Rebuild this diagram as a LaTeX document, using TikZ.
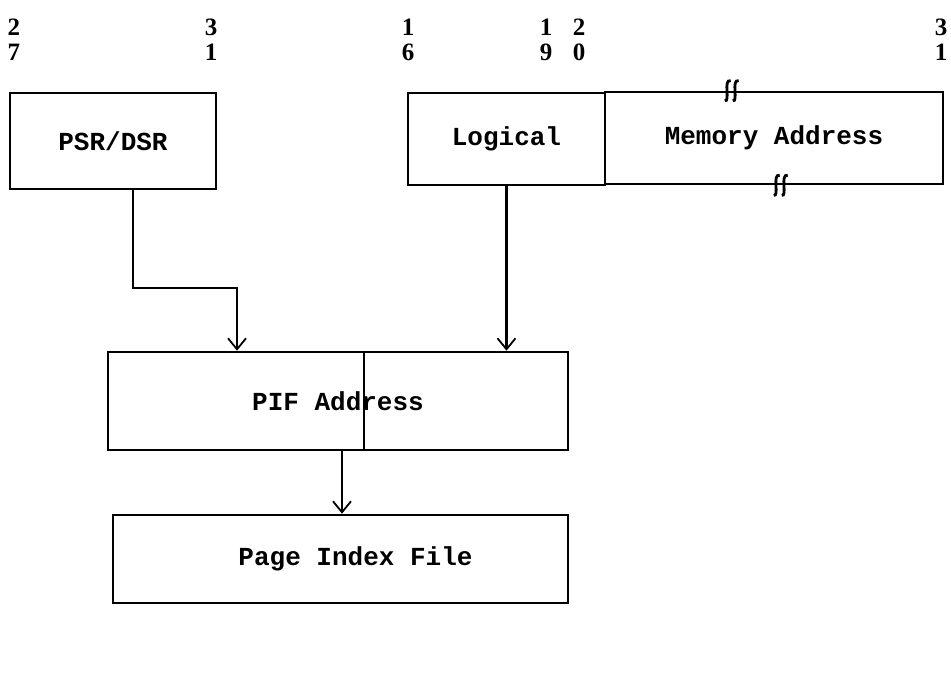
\documentclass[tikz,border=0pt]{standalone}
\usepackage{fontspec}
\setmonofont{Liberation Mono}
\newfontfamily\numfont{Liberation Serif}
\usetikzlibrary{arrows.meta,calc}
\begin{document}
\begin{tikzpicture}[x=1pt,y=-1pt,
  boxfont/.style={font=\ttfamily\bfseries\fontsize{26}{28}\selectfont},
  box/.style={draw,line width=2.6pt,inner sep=0pt,boxfont},
  num/.style={font=\numfont\bfseries\fontsize{25}{27}\selectfont,inner sep=0pt},
  arr/.style={line width=2.4pt,-{Straight Barb[length=11pt,width=18pt,line width=1.8pt]}},
  brk/.style={line width=2.8pt}]
\useasboundingbox (0,0) rectangle (951,690);
% bit numbers
\node[num] (n27) at (14,27) {2};
\node[num] (n31) at (211,27) {3};
\node[num] (n16) at (408,27) {1};
\node[num] (n19) at (546,27) {1};
\node[num] (n20) at (579,27) {2};
\node[num] (n3r) at (941,27) {3};
\node[num] (m7) at (14,52) {7};
\node[num] (m1) at (211,52) {1};
\node[num] (m6) at (408,52) {6};
\node[num] (m9) at (546,52) {9};
\node[num] (m0) at (579,52) {0};
\node[num] (m1r) at (941,52) {1};
% boxes
\node[box,minimum width=206pt,minimum height=96pt] (psr) at (113,141) {PSR/DSR};
\node[box,minimum width=197pt,minimum height=92pt] (log) at (506.5,139) {Logical};
\node[box,minimum width=338pt,minimum height=92pt] (mem) at (774,138) {Memory Address};
\node[box,minimum width=460pt,minimum height=98pt] (pif) at (338,401) {PIF Address};
\draw[line width=2.6pt] ($(pif.north west)!0.5565!(pif.north east)$) -- ($(pif.south west)!0.5565!(pif.south east)$);
\node[box,minimum width=455pt,minimum height=88pt,
  label={[boxfont,xshift=15pt]center:Page Index File}] (page) at (340.5,559) {};
% break marks
\coordinate (b1) at ($(mem.north west)+(128,0)$);
\coordinate (b2) at ($(mem.south west)+(177,0)$);
\foreach \c in {b1,b2}{
  \draw[brk] ($(\c)+(-7,10)$) .. controls ($(\c)+(-1,12)$) and ($(\c)+(-9,-12)$) .. ($(\c)+(-1,-10)$);
  \draw[brk] ($(\c)+(1,10)$) .. controls ($(\c)+(7,12)$) and ($(\c)+(-1,-12)$) .. ($(\c)+(7,-10)$);
}
% connectors
\coordinate (bend) at (237,288);
\coordinate (pifout) at ($(pif.south)+(4,0)$);
\draw[arr] ($(psr.south)+(20,0)$) |- (bend) -- (bend |- pif.north);
\draw[arr] (log.south) -- (log.south |- pif.north);
\draw[arr] (pifout) -- (pifout |- page.north);
\end{tikzpicture}
\end{document}
